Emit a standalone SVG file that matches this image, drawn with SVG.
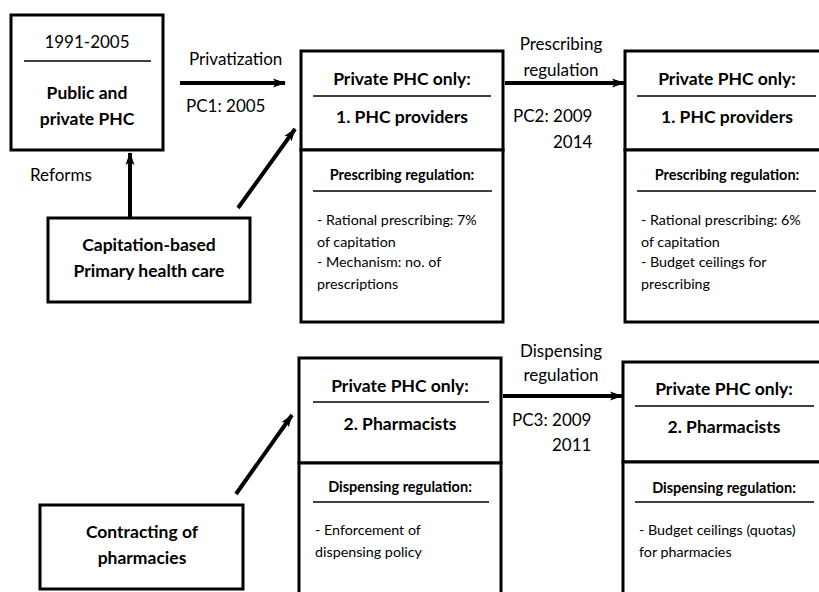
<svg xmlns="http://www.w3.org/2000/svg" width="819" height="592" viewBox="0 0 819 592">
<style>
text{font-family:Lato,"Liberation Sans",sans-serif;fill:#000}
.b{font-weight:bold;font-size:17.5px}
.h{font-weight:bold;font-size:14.5px}
.n{font-size:14.3px}
.l{font-size:17px}
.c{text-anchor:middle}
.box{fill:#fff;stroke:#000;stroke-width:3}
.sep{stroke:#000;stroke-width:1.3}
.con{stroke:#000;stroke-width:4;fill:none;marker-end:url(#ah)}
</style>
<defs>
<marker id="ah" markerUnits="userSpaceOnUse" markerWidth="14" markerHeight="10" refX="12" refY="5" orient="auto">
<path d="M0,0.5 L13,5 L0,9.5 L3,5 Z" fill="#000"/>
</marker>
</defs>
<rect width="819" height="592" fill="#fff"/>
<g id="connectors">
<line class="con" x1="180" y1="83" x2="285" y2="83"/>
<line class="con" x1="130" y1="218" x2="130" y2="153"/>
<line class="con" x1="238" y1="208" x2="295" y2="129"/>
<line class="con" x1="505" y1="83" x2="624" y2="83"/>
<line class="con" x1="236" y1="494" x2="292" y2="415"/>
<line class="con" x1="503" y1="396" x2="622" y2="396"/>
</g>
<g id="labels">
<text class="l" x="189" y="65">Privatization</text>
<text class="l" x="186" y="112">PC1: 2005</text>
<text class="l" x="30" y="181">Reforms</text>
<text class="l c" x="561" y="50">Prescribing</text>
<text class="l c" x="561" y="76">regulation</text>
<text class="l" x="513" y="122">PC2: 2009</text>
<text class="l" x="553" y="148">2014</text>
<text class="l c" x="561" y="357">Dispensing</text>
<text class="l c" x="561" y="381">regulation</text>
<text class="l" x="512" y="426">PC3: 2009</text>
<text class="l" x="552" y="451">2011</text>
</g>
<g id="n-public">
<rect class="box" x="11" y="15" width="152" height="135"/>
<line class="sep" x1="24" y1="61" x2="151" y2="61"/>
<text class="l c" x="87" y="48">1991-2005</text>
<text class="b c" x="87" y="99">Public and</text>
<text class="b c" x="87" y="125">private PHC</text>
</g>
<g id="n-capitation">
<rect class="box" x="48" y="218" width="202" height="84"/>
<text class="b c" x="149" y="251">Capitation-based</text>
<text class="b c" x="149" y="277">Primary health care</text>
</g>
<g id="n-contracting">
<rect class="box" x="40" y="505" width="203" height="84"/>
<text class="b c" x="142" y="538">Contracting of</text>
<text class="b c" x="142" y="564">pharmacies</text>
</g>
<g id="n-phc1">
<rect class="box" x="301" y="51" width="202" height="99"/>
<line class="sep" x1="313" y1="96" x2="491" y2="96"/>
<text class="b c" x="402" y="85">Private PHC only:</text>
<text class="b c" x="402" y="123">1. PHC providers</text>
</g>
<g id="n-presc1">
<rect class="box" x="301" y="150" width="202" height="172"/>
<line class="sep" x1="313" y1="191" x2="492" y2="191"/>
<text class="h c" x="402" y="180">Prescribing regulation:</text>
<text class="n" x="317" y="225">- Rational prescribing: 7%</text>
<text class="n" x="317" y="247">of capitation</text>
<text class="n" x="317" y="267">- Mechanism: no. of</text>
<text class="n" x="317" y="289">prescriptions</text>
</g>
<g id="n-phc2">
<rect class="box" x="625" y="51" width="200" height="99"/>
<line class="sep" x1="637" y1="96" x2="816" y2="96"/>
<text class="b c" x="727" y="85">Private PHC only:</text>
<text class="b c" x="727" y="123">1. PHC providers</text>
</g>
<g id="n-presc2">
<rect class="box" x="625" y="150" width="200" height="172"/>
<line class="sep" x1="637" y1="191" x2="816" y2="191"/>
<text class="h c" x="727" y="180">Prescribing regulation:</text>
<text class="n" x="641" y="225">- Rational prescribing: 6%</text>
<text class="n" x="641" y="247">of capitation</text>
<text class="n" x="641" y="267">- Budget ceilings for</text>
<text class="n" x="641" y="289">prescribing</text>
</g>
<g id="n-pharm1">
<rect class="box" x="299" y="358" width="202" height="105"/>
<line class="sep" x1="313" y1="402" x2="489" y2="402"/>
<text class="b c" x="400" y="392">Private PHC only:</text>
<text class="b c" x="400" y="430">2. Pharmacists</text>
</g>
<g id="n-disp1">
<rect class="box" x="299" y="463" width="202" height="140"/>
<line class="sep" x1="313" y1="502" x2="489" y2="502"/>
<text class="h c" x="400" y="492">Dispensing regulation:</text>
<text class="n" x="315" y="535">- Enforcement of</text>
<text class="n" x="315" y="557">dispensing policy</text>
</g>
<g id="n-pharm2">
<rect class="box" x="623" y="362" width="202" height="100"/>
<line class="sep" x1="635" y1="406" x2="814" y2="406"/>
<text class="b c" x="724" y="395">Private PHC only:</text>
<text class="b c" x="724" y="433">2. Pharmacists</text>
</g>
<g id="n-disp2">
<rect class="box" x="623" y="462" width="202" height="141"/>
<line class="sep" x1="635" y1="502" x2="814" y2="502"/>
<text class="h c" x="724" y="493">Dispensing regulation:</text>
<text class="n" x="639" y="535">- Budget ceilings (quotas)</text>
<text class="n" x="639" y="557">for pharmacies</text>
</g>
</svg>
